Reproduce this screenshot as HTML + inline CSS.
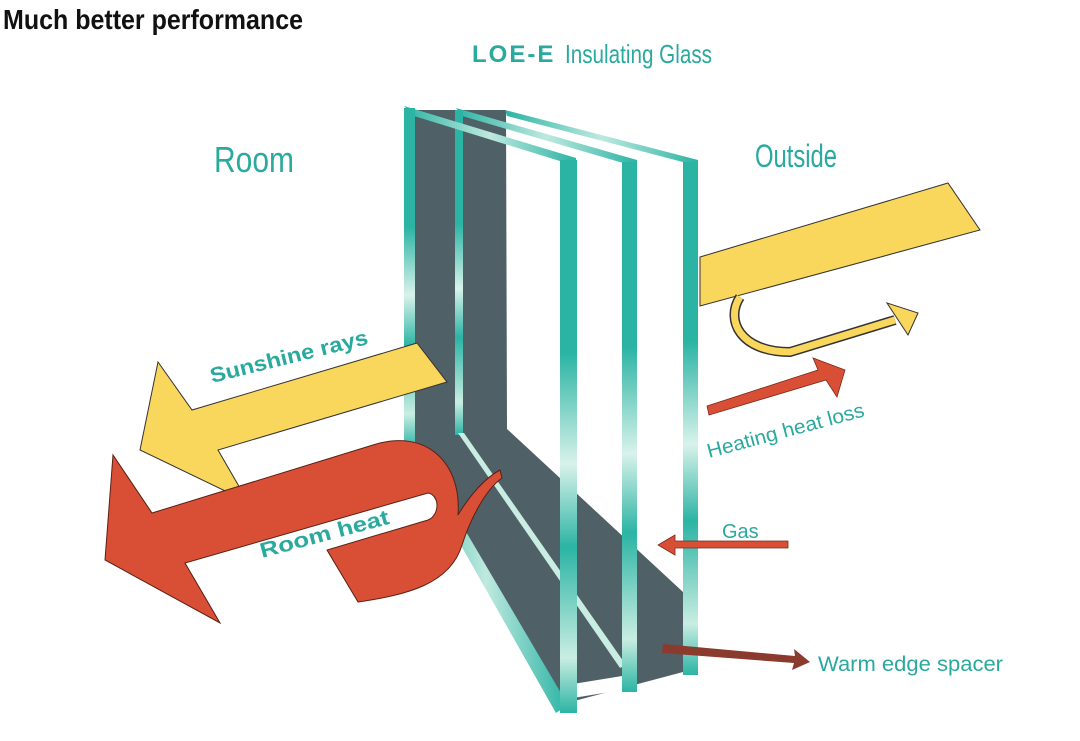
<!DOCTYPE html>
<html><head><meta charset="utf-8"><style>
html,body{margin:0;padding:0;background:#fff;}
svg{display:block;}
</style></head><body>
<svg width="1080" height="741" viewBox="0 0 1080 741" xmlns="http://www.w3.org/2000/svg">
<defs>
<linearGradient id="gv" x1="0" y1="0" x2="0" y2="1">
<stop offset="0" stop-color="#2bb4a4"/><stop offset="0.35" stop-color="#2bb4a4"/>
<stop offset="0.55" stop-color="#d8f2ea"/><stop offset="0.7" stop-color="#2bb4a4"/>
<stop offset="0.9" stop-color="#c9ede2"/><stop offset="1" stop-color="#2bb4a4"/></linearGradient>
<linearGradient id="gh" x1="0" y1="0" x2="1" y2="0">
<stop offset="0" stop-color="#2bb4a4"/><stop offset="0.5" stop-color="#bfe9df"/><stop offset="1" stop-color="#2bb4a4"/></linearGradient>
</defs>
<text x="3" y="29" font-family="Liberation Sans Narrow, Liberation Sans, sans-serif" font-weight="bold" font-size="28" fill="#111" textLength="300" lengthAdjust="spacingAndGlyphs">Much better performance</text>
<text x="472" y="62" font-family="Liberation Sans, sans-serif" font-weight="bold" font-size="24" fill="#2aa99e" letter-spacing="2">LOE-E</text>
<text x="565" y="63" font-family="Liberation Sans Narrow, Liberation Sans, sans-serif" font-size="26" fill="#2aa99e" textLength="147" lengthAdjust="spacingAndGlyphs">Insulating Glass</text>
<text x="214" y="172" font-family="Liberation Sans Narrow, Liberation Sans, sans-serif" font-size="36" fill="#2aa99e" textLength="80" lengthAdjust="spacingAndGlyphs">Room</text>
<text x="755" y="167" font-family="Liberation Sans Narrow, Liberation Sans, sans-serif" font-size="32" fill="#2aa99e" textLength="82" lengthAdjust="spacingAndGlyphs">Outside</text>

<polygon points="414,110 506,110 507,429 683,592 683,672 578,700 556,700 412,445" fill="#4f6066"/>
<polygon points="573,684 622,676 622,690 573,698" fill="#fff"/>
<polygon points="505,110 698,160 698,166 507,116" fill="url(#gh)"/>
<rect x="683" y="162" width="15" height="513" fill="url(#gv)"/>
<polygon points="456,108 637,160 637,167 462,116" fill="url(#gh)"/>
<rect x="455" y="110" width="8" height="325" fill="url(#gv)"/>
<polygon points="458,433 464,433 626,665 620,668" fill="#c9ede2"/>
<rect x="622" y="162" width="15" height="530" fill="url(#gv)"/>
<polygon points="404,106 576,158 576,166 414,116" fill="url(#gh)"/>
<rect x="404" y="108" width="11" height="340" fill="url(#gv)"/>
<polygon points="404,445 415,445 568,705 556,713" fill="url(#gh)"/>
<rect x="560" y="160" width="17" height="553" fill="url(#gv)"/>

<polygon points="700,257 948,183 980,230 700,306" fill="#f9d65c" stroke="#333" stroke-width="1"/>
<path d="M740,297 C725,320 740,352 790,352 L895,320" fill="none" stroke="#333" stroke-width="10"/>
<path d="M740,297 C725,320 740,352 790,352 L895,320" fill="none" stroke="#f9d65c" stroke-width="7"/>
<polygon points="887,303 918,313 908,335" fill="#f9d65c" stroke="#333" stroke-width="1"/>
<polygon points="707,406 818,370 813,358 845,370 837,397 826,380 709,415" fill="#d94f36" stroke="#7a2a1c" stroke-width="0.8"/>
<polygon points="788,541 675,541 675,535 658,545 675,555 675,548 788,548" fill="#d94f36" stroke="#7a2a1c" stroke-width="0.8"/>
<polygon points="663,644 795,656 794,649 810,662 792,670 794,663 662,653" fill="#8b3a2e"/>

<polygon points="417,343 447,382 218,450 248,502 140,450 158,362 192,410" fill="#f9d65c" stroke="#333" stroke-width="1"/>
<path d="M105,560 L113,455 L152,513 L373,445 C425,428 462,462 458,515 C470,495 485,478 500,470 L502,478 C485,490 470,520 462,545 C450,585 405,595 358,602 L327,550 L428,520 C440,515 440,495 428,493 L185,563 L220,623 Z" fill="#d94f36" stroke="#5a1f14" stroke-width="1"/>

<text transform="translate(212,383) rotate(-14)" font-family="Liberation Sans, sans-serif" font-weight="bold" font-size="21" fill="#2aa99e" textLength="162" lengthAdjust="spacingAndGlyphs">Sunshine rays</text>
<text transform="translate(262,558) rotate(-15)" font-family="Liberation Sans, sans-serif" font-weight="bold" font-size="21" fill="#2aa99e" textLength="133" lengthAdjust="spacingAndGlyphs">Room heat</text>
<text transform="translate(709,458) rotate(-15)" font-family="Liberation Sans, sans-serif" font-size="20" fill="#2aa99e" textLength="162" lengthAdjust="spacingAndGlyphs">Heating heat loss</text>
<text x="722" y="538" font-family="Liberation Sans, sans-serif" font-size="20" fill="#2aa99e">Gas</text>
<text x="818" y="671" font-family="Liberation Sans, sans-serif" font-size="21" fill="#2aa99e" textLength="185" lengthAdjust="spacingAndGlyphs">Warm edge spacer</text>
</svg>
</body></html>
